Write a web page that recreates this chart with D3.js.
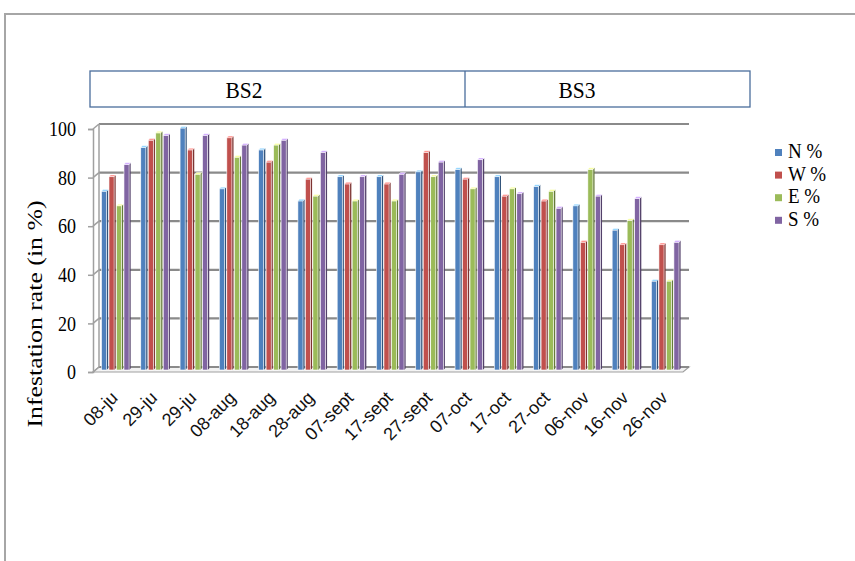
<!DOCTYPE html>
<html>
<head>
<meta charset="utf-8">
<script src="https://cdn.jsdelivr.net/npm/d3@7/dist/d3.min.js"></script>
<style>
  body { margin: 0; background: #fff; }
  svg { display: block; }
</style>
</head>
<body>
<div id="chart"></div>
<script>
// data
var dates = ["08-ju", "29-ju", "29-ju ", "08-aug", "18-aug", "28-aug", "07-sept", "17-sept",
             "27-sept", "07-oct", "17-oct", "27-oct", "06-nov", "16-nov", "26-nov"];
var seriesNames = ["N %", "W %", "E %", "S %"];
var nValues = [74, 92, 100, 75, 91, 70, 80, 80, 82, 83, 80, 76, 68, 58, 37];
var wValues = [80, 95, 91, 96, 86, 79, 77, 77, 90, 79, 72, 70, 53, 52, 52];
var eValues = [68, 98, 81, 88, 93, 72, 70, 70, 80, 75, 75, 74, 83, 62, 37];
var sValues = [85, 97, 97, 93, 95, 90, 80, 81, 86, 87, 73, 67, 72, 71, 53];
var yTicks = [0, 20, 40, 60, 80, 100];
var sections = ["BS2", "BS3"];

var colors = ["#4F81BD", "#C0504D", "#9BBB59", "#8064A2"];
var allValues = [nValues, wValues, eValues, sValues];

var table = dates.map(function(d, i) {
  return {date: d, values: allValues.map(function(arr, s) { return {s: s, v: arr[i]}; })};
});

var serif = "'Liberation Serif', 'Times New Roman', serif";
var stretch = 1.15; // the source image is a bit taller than wide

var width = 855, height = 561;
var svg = d3.select("#chart").append("svg")
  .attr("width", width)
  .attr("height", height);

// outer frame (top and left edges)
svg.append("path")
  .attr("d", "M5,561 L5,14 L855,14")
  .attr("fill", "none")
  .attr("stroke", "#a6a6a6")
  .attr("stroke-width", 2);

var left = 93, right = 683;
var dx = 6, dy = 5; // depth offset of the back wall

var x = d3.scaleBand()
  .domain(dates)
  .range([left, right])
  .paddingInner(0.26)
  .paddingOuter(0.14);

var x1 = d3.scaleBand()
  .domain(d3.range(4))
  .range([0, x.bandwidth()])
  .paddingInner(0.12);

var y = d3.scaleLinear()
  .domain([0, 100])
  .range([372, 129]);

// floor
svg.append("polygon")
  .attr("points", [[left, y(0)], [right, y(0)], [right + dx, y(0) - dy], [left + dx, y(0) - dy]].join(" "))
  .attr("fill", "#f2f2f2")
  .attr("stroke", "#a0a0a0")
  .attr("stroke-width", 1.2);

// back wall gridlines
svg.append("g").selectAll("line")
  .data(yTicks)
  .enter().append("line")
  .attr("x1", left + dx)
  .attr("x2", right + dx)
  .attr("y1", function(d) { return y(d) - dy; })
  .attr("y2", function(d) { return y(d) - dy; })
  .attr("stroke", "#8a8a8a")
  .attr("stroke-width", 2.2);

// left wall
svg.append("line")
  .attr("x1", left + dx).attr("x2", left + dx)
  .attr("y1", y(100) - dy).attr("y2", y(0) - dy)
  .attr("stroke", "#a0a0a0").attr("stroke-width", 1.5);
svg.append("g").selectAll("line")
  .data(yTicks)
  .enter().append("line")
  .attr("x1", left).attr("x2", left + dx)
  .attr("y1", function(d) { return y(d); })
  .attr("y2", function(d) { return y(d) - dy; })
  .attr("stroke", "#a0a0a0").attr("stroke-width", 1.5);

// front y axis
var yAxis = d3.axisLeft(y).tickValues(yTicks).tickSize(5).tickPadding(12);
var gy = svg.append("g")
  .attr("transform", "translate(" + left + ",0)")
  .call(yAxis);
gy.select(".domain").attr("stroke", "#a0a0a0").attr("stroke-width", 1.5);
gy.selectAll(".tick line").attr("stroke", "#a0a0a0").attr("stroke-width", 1.5);
gy.selectAll(".tick text")
  .attr("fill", "#000")
  .attr("transform", "scale(1," + stretch + ")")
  .style("font-family", serif)
  .style("font-size", "18px");

// bars
var groups = svg.append("g").selectAll("g")
  .data(table)
  .enter().append("g")
  .attr("transform", function(d) { return "translate(" + (x(d.date) + 3) + ",0)"; });

var bw = x1.bandwidth() - 1.5, d3x = 1.6;
var base = y(0) - 2;

var bars = groups.selectAll("g")
  .data(function(d) { return d.values; })
  .enter().append("g")
  .attr("transform", function(d) { return "translate(" + x1(d.s) + ",0)"; });

// side face
bars.append("polygon")
  .attr("points", function(d) {
    var t = y(d.v) - 1;
    return [[bw, t], [bw + d3x, t - d3x], [bw + d3x, base - d3x], [bw, base]].join(" ");
  })
  .attr("fill", function(d) { return d3.color(colors[d.s]).darker(1.2); });

// front face
bars.append("rect")
  .attr("x", 0)
  .attr("y", function(d) { return y(d.v) - 1; })
  .attr("width", bw)
  .attr("height", function(d) { return base - y(d.v) + 1; })
  .attr("fill", function(d) { return colors[d.s]; })
  .attr("stroke", "#ffffff")
  .attr("stroke-width", 0.6);

// top face
bars.append("polygon")
  .attr("points", function(d) {
    var t = y(d.v) - 1;
    return [[0, t], [d3x, t - d3x], [bw + d3x, t - d3x], [bw, t]].join(" ");
  })
  .attr("fill", function(d) { return d3.color(colors[d.s]).brighter(1.3); })
  .attr("stroke", "#ffffff")
  .attr("stroke-width", 0.5);

// x labels
svg.append("g").selectAll("text")
  .data(dates)
  .enter().append("text")
  .attr("transform", function(d) {
    return "translate(" + (x(d) + x.bandwidth() / 2 - 3) + ",390) rotate(-45)";
  })
  .attr("text-anchor", "end")
  .attr("dy", "0.7em")
  .attr("fill", "#111")
  .style("font-family", "'Liberation Sans', Arial, sans-serif")
  .style("font-size", "18px")
  .text(function(d) { return d.trim(); });

// y title
svg.append("text")
  .attr("transform", "translate(42,314) scale(1,1.2) rotate(-90)")
  .attr("text-anchor", "middle")
  .style("font-family", serif)
  .style("font-size", "21.5px")
  .text("Infestation rate (in %)");

// section header box
var boxLeft = 90, boxRight = 750, divider = 465;
var header = svg.append("g");
header.append("rect")
  .attr("x", boxLeft).attr("y", 71)
  .attr("width", boxRight - boxLeft).attr("height", 36)
  .attr("fill", "#fff")
  .attr("stroke", "#4a6d9c")
  .attr("stroke-width", 1.3);
header.append("line")
  .attr("x1", divider).attr("x2", divider)
  .attr("y1", 71).attr("y2", 107)
  .attr("stroke", "#4a6d9c")
  .attr("stroke-width", 1.3);
var labelX = [boxLeft + 154, divider + 112];
header.selectAll("text")
  .data(sections)
  .enter().append("text")
  .attr("transform", function(d, i) { return "translate(" + labelX[i] + ",98) scale(1,1.12)"; })
  .attr("text-anchor", "middle")
  .style("font-family", serif)
  .style("font-size", "21.5px")
  .text(function(d) { return d; });

// legend
var legend = svg.append("g").attr("transform", "translate(775,149)");
var li = legend.selectAll("g")
  .data(seriesNames)
  .enter().append("g")
  .attr("transform", function(d, i) { return "translate(0," + (i * 22.6) + ")"; });
li.append("rect")
  .attr("width", 7).attr("height", 7)
  .attr("y", 0)
  .attr("fill", function(d, i) { return colors[i]; });
li.append("text")
  .attr("transform", "translate(13,9) scale(1," + stretch + ")")
  .style("font-family", serif)
  .style("font-size", "19px")
  .text(function(d) { return d; });
</script>
</body>
</html>
